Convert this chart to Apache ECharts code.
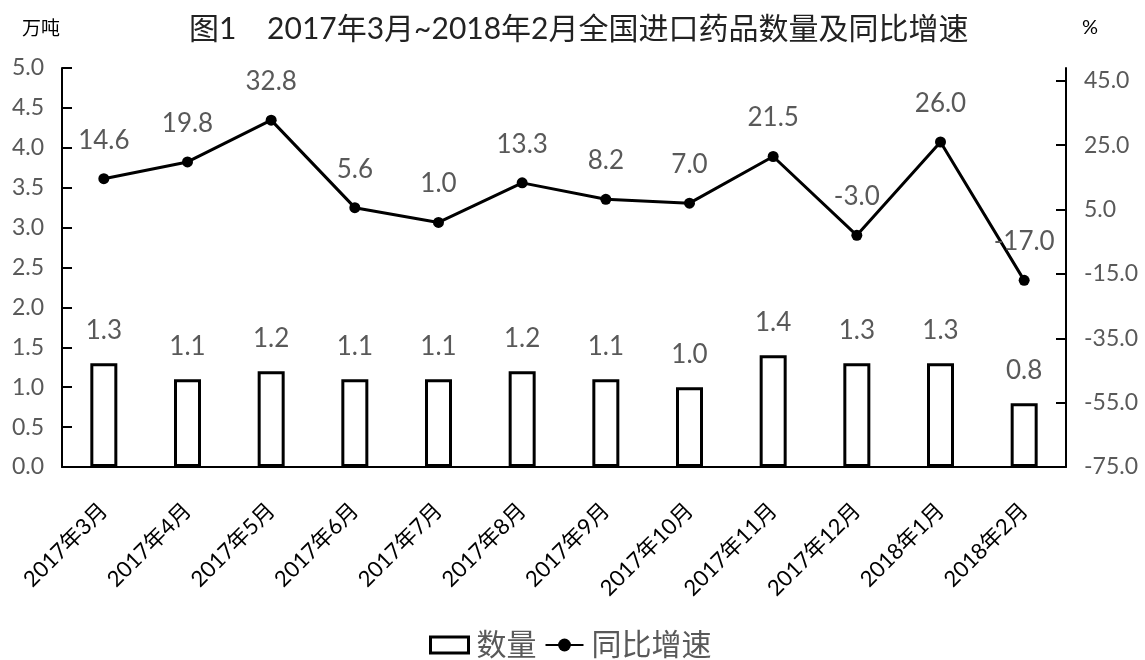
<!DOCTYPE html>
<html>
<head>
<meta charset="utf-8">
<script src="https://cdn.jsdelivr.net/npm/echarts@6/dist/echarts.min.js"></script>
<style>
  html, body { margin: 0; padding: 0; background: #fff; }
  #chart { width: 1145px; height: 660px; }
</style>
</head>
<body>
<div id="chart"></div>
<script>
var months = ['2017年3月', '2017年4月', '2017年5月', '2017年6月', '2017年7月', '2017年8月',
  '2017年9月', '2017年10月', '2017年11月', '2017年12月', '2018年1月', '2018年2月'];
var quantity = [1.3, 1.1, 1.2, 1.1, 1.1, 1.2, 1.1, 1.0, 1.4, 1.3, 1.3, 0.8];
var growth = [14.6, 19.8, 32.8, 5.6, 1.0, 13.3, 8.2, 7.0, 21.5, -3.0, 26.0, -17.0];
var rightTicks = [-75, -55, -35, -15, 5, 25, 45];

var font = 'Lato, "Noto Sans CJK SC", sans-serif';
var gray = '#595959';

var option = {
  textStyle: { fontFamily: font },
  title: {
    text: '图1    2017年3月~2018年2月全国进口药品数量及同比增速',
    left: 184,
    top: 9,
    textStyle: { fontSize: 30, fontWeight: 'normal', color: '#222', fontFamily: font }
  },
  legend: {
    left: 424,
    top: 625,
    itemGap: 8,
    itemWidth: 38,
    itemHeight: 16,
    textStyle: { fontSize: 30, color: gray, fontFamily: font, padding: [0, 0, 0, 3] },
    data: [
      { name: '数量', icon: 'rect', itemStyle: { color: '#fff', borderColor: '#000', borderWidth: 3 } },
      { name: '同比增速' }
    ]
  },
  grid: { left: 62, right: 79, top: 68, bottom: 193 },
  xAxis: {
    type: 'category',
    data: months,
    axisLine: { lineStyle: { color: '#000', width: 2 } },
    axisTick: { length: 11, lineStyle: { color: '#000', width: 2 } },
    axisLabel: { rotate: 45, fontSize: 22, color: '#000', margin: 40, interval: 0 }
  },
  yAxis: [
    {
      type: 'value',
      min: 0, max: 5, interval: 0.5,
      name: '万吨',
      nameLocation: 'end',
      nameGap: 30,
      nameTextStyle: { fontSize: 19, color: '#000', align: 'right', padding: [0, 2, 0, 0] },
      splitLine: { show: false },
      axisLine: { show: true, lineStyle: { color: '#000', width: 2 } },
      axisTick: { show: true, inside: true, length: 10, lineStyle: { color: '#000', width: 2 } },
      axisLabel: { fontSize: 23, color: gray, margin: 18, formatter: function (v) { return v.toFixed(1); } }
    },
    {
      type: 'value',
      min: -75, max: 49,
      name: '%',
      nameLocation: 'end',
      nameGap: 30,
      nameTextStyle: { fontSize: 20, color: '#000', align: 'left', padding: [0, 0, 0, 16] },
      splitLine: { show: false },
      axisLine: { show: true, lineStyle: { color: '#000', width: 2 } },
      axisTick: { show: true, inside: true, length: 10, customValues: rightTicks, lineStyle: { color: '#000', width: 2 } },
      axisLabel: { fontSize: 23, color: gray, margin: 18, customValues: rightTicks, formatter: function (v) { return v.toFixed(1); } }
    }
  ],
  series: [
    {
      name: '数量',
      type: 'bar',
      yAxisIndex: 0,
      barWidth: 27,
      data: quantity,
      itemStyle: { color: '#fff', borderColor: '#000', borderWidth: 3 },
      label: { show: true, position: 'top', distance: 20, fontSize: 26, color: gray, formatter: function (p) { return p.value.toFixed(1); } }
    },
    {
      name: '同比增速',
      type: 'line',
      yAxisIndex: 1,
      data: growth,
      symbol: 'circle',
      symbolSize: 11,
      lineStyle: { color: '#000', width: 3 },
      itemStyle: { color: '#000' },
      label: { show: true, position: 'top', distance: 20, fontSize: 26, color: gray, formatter: function (p) { return p.value.toFixed(1); } }
    }
  ]
};

echarts.init(document.getElementById('chart')).setOption(option);
</script>
</body>
</html>
